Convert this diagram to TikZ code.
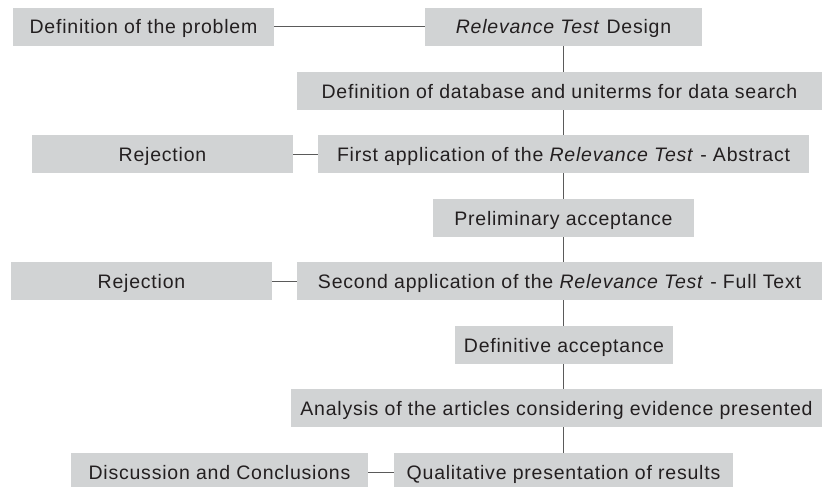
\documentclass[tikz,border=0pt]{standalone}
\usepackage{fontspec}
\setmainfont{Liberation Sans}[LetterSpace=4]
\usetikzlibrary{backgrounds}
\definecolor{boxgray}{HTML}{D1D3D4}
\definecolor{txt}{HTML}{231F20}
\definecolor{linegray}{HTML}{5A5A5A}
\begin{document}
\begin{tikzpicture}[x=1pt,y=-1pt,
  stepbox/.style={fill=boxgray,draw=none,inner sep=0pt,minimum height=38pt,text=txt,
    text height=14pt,text depth=0pt,font=\fontsize{19.5}{22}\selectfont},
  conn/.style={draw=linegray,line width=1pt}]
\useasboundingbox (0,0) rectangle (822,487);
\node[stepbox,minimum width=261pt] (b1) at (143.5,27) {Definition of the problem};
\node[stepbox,minimum width=277pt] (b2) at (563.5,27) {\textit{Relevance Test} Design};
\node[stepbox,minimum width=525pt] (b3) at (559.5,91) {Definition of database and uniterms for data search};
\node[stepbox,minimum width=261pt] (r1) at (162.5,154) {Rejection};
\node[stepbox,minimum width=491pt] (b4) at (563.5,154) {First application of the \textit{Relevance Test} - Abstract};
\node[stepbox,minimum width=261pt] (b5) at (563.5,218) {Preliminary acceptance};
\node[stepbox,minimum width=261pt] (r2) at (141.5,281) {Rejection};
\node[stepbox,minimum width=525pt] (b6) at (559.5,281) {Second application of the \textit{Relevance Test} - Full Text};
\node[stepbox,minimum width=218pt] (b7) at (564,345) {Definitive acceptance};
\node[stepbox,minimum width=531pt] (b8) at (556.5,408) {Analysis of the articles considering evidence presented};
\node[stepbox,minimum width=297pt] (dc) at (219.5,472) {Discussion and Conclusions};
\node[stepbox,minimum width=339pt] (b9) at (563.5,472) {Qualitative presentation of results};
\begin{scope}[on background layer]
\draw[conn] (b2) -- (b9);
\end{scope}
\draw[conn] (b1.east) -- (b2.west);
\draw[conn] (r1.east) -- (b4.west);
\draw[conn] (r2.east) -- (b6.west);
\draw[conn] (dc.east) -- (b9.west);
\end{tikzpicture}
\end{document}
